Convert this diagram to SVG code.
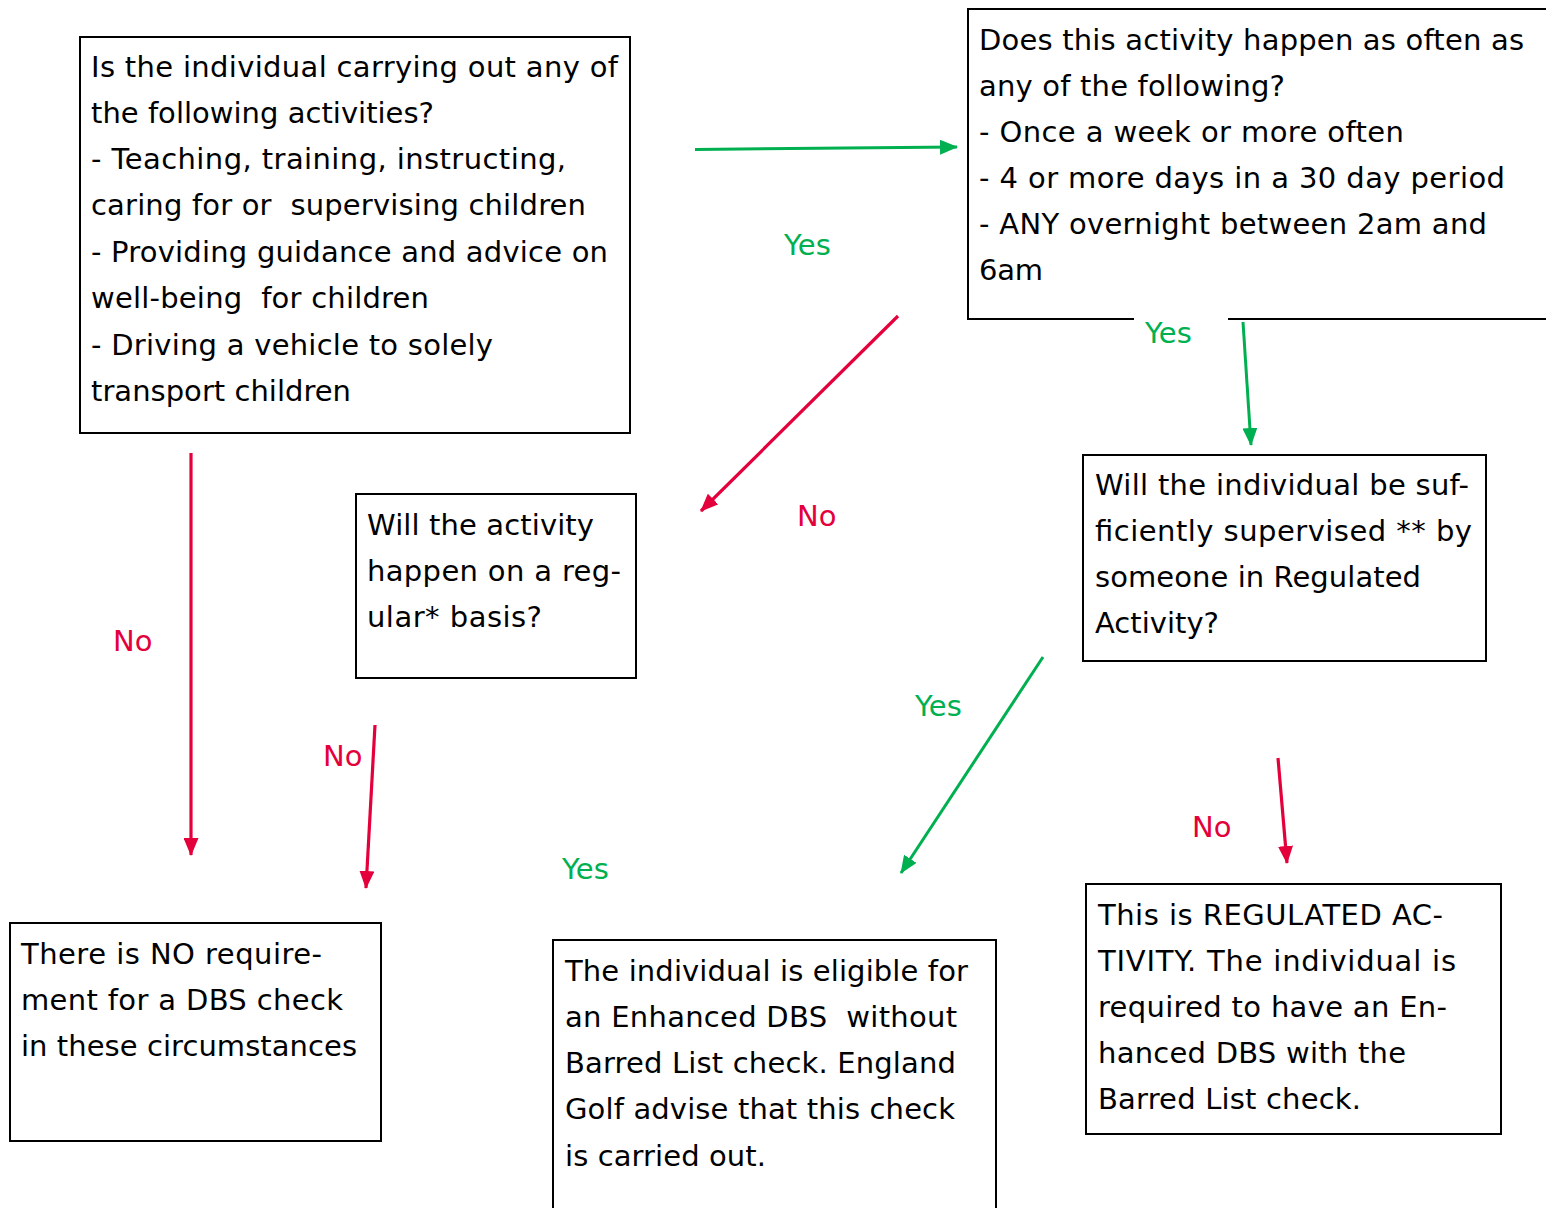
<svg xmlns="http://www.w3.org/2000/svg" width="1546" height="1208" viewBox="0 0 1546 1208">
<defs>
<style>
.box{fill:#fff;stroke:#000;stroke-width:2}
.t{font-family:"DejaVu Sans","Verdana",sans-serif;font-size:29px;fill:#000;white-space:pre}
.yes{font-family:"DejaVu Sans","Verdana",sans-serif;font-size:29px;fill:#00B050}
.no{font-family:"DejaVu Sans","Verdana",sans-serif;font-size:29px;fill:#E4003B}
.g{stroke:#00B050;stroke-width:3;fill:none}
.r{stroke:#E4003B;stroke-width:3.2;fill:none}
</style>
<marker id="ag" markerUnits="userSpaceOnUse" markerWidth="18" markerHeight="15" refX="17" refY="7.5" orient="auto"><path d="M0,0 L18,7.5 L0,15 z" fill="#00B050"/></marker>
<marker id="ar" markerUnits="userSpaceOnUse" markerWidth="18" markerHeight="15" refX="17" refY="7.5" orient="auto"><path d="M0,0 L18,7.5 L0,15 z" fill="#E4003B"/></marker>
</defs>
<rect width="1546" height="1208" fill="#fff"/>

<g id="connectors">
<line class="g" x1="695" y1="149.5" x2="957" y2="147" marker-end="url(#ag)"/>
<line class="r" x1="898" y1="316" x2="701" y2="511" marker-end="url(#ar)"/>
<line class="g" x1="1243" y1="322" x2="1251" y2="445" marker-end="url(#ag)"/>
<line class="r" x1="191" y1="453" x2="191" y2="855" marker-end="url(#ar)"/>
<line class="r" x1="375" y1="725" x2="366" y2="888" marker-end="url(#ar)"/>
<line class="g" x1="1043" y1="657" x2="901" y2="873" marker-end="url(#ag)"/>
<line class="r" x1="1278" y1="758" x2="1287" y2="863" marker-end="url(#ar)"/>
<text class="yes" x="784" y="255">Yes</text>
<text class="yes" x="1145" y="343">Yes</text>
<text class="no" x="797" y="526">No</text>
<text class="no" x="113" y="651">No</text>
<text class="no" x="323" y="766">No</text>
<text class="yes" x="915" y="716">Yes</text>
<text class="yes" x="562" y="879">Yes</text>
<text class="no" x="1192" y="837">No</text>
</g>

<g id="q1">
<rect class="box" x="80" y="37" width="550" height="396"/>
<text class="t" x="91" y="77" textLength="527">Is the individual carrying out any of</text>
<text class="t" x="91" y="123" textLength="343">the following activities?</text>
<text class="t" x="91" y="169" textLength="475">- Teaching, training, instructing,</text>
<text class="t" x="91" y="215" textLength="495" xml:space="preserve">caring for or  supervising children</text>
<text class="t" x="91" y="262" textLength="517">- Providing guidance and advice on</text>
<text class="t" x="91" y="308" textLength="338" xml:space="preserve">well-being  for children</text>
<text class="t" x="91" y="355" textLength="402">- Driving a vehicle to solely</text>
<text class="t" x="91" y="401" textLength="260">transport children</text>
</g>

<g id="q2">
<path class="box" fill="none" d="M1560,9 L968,9 L968,319 L1134,319 M1228,319 L1560,319"/>
<text class="t" x="979" y="50" textLength="545">Does this activity happen as often as</text>
<text class="t" x="979" y="96" textLength="306">any of the following?</text>
<text class="t" x="979" y="142" textLength="425">- Once a week or more often</text>
<text class="t" x="979" y="188" textLength="526">- 4 or more days in a 30 day period</text>
<text class="t" x="979" y="234" textLength="508">- ANY overnight between 2am and</text>
<text class="t" x="979" y="280" textLength="64">6am</text>
</g>

<g id="q3">
<rect class="box" x="356" y="494" width="280" height="184"/>
<text class="t" x="367" y="535" textLength="227">Will the activity</text>
<text class="t" x="367" y="581" textLength="254">happen on a reg-</text>
<text class="t" x="367" y="627" textLength="175">ular* basis?</text>
</g>

<g id="q4">
<rect class="box" x="1083" y="455" width="403" height="206"/>
<text class="t" x="1095" y="495" textLength="374">Will the individual be suf-</text>
<text class="t" x="1095" y="541" textLength="377">ficiently supervised ** by</text>
<text class="t" x="1095" y="587" textLength="326">someone in Regulated</text>
<text class="t" x="1095" y="633" textLength="124">Activity?</text>
</g>

<g id="r1">
<rect class="box" x="10" y="923" width="371" height="218"/>
<text class="t" x="21" y="964" textLength="301">There is NO require-</text>
<text class="t" x="21" y="1010" textLength="322">ment for a DBS check</text>
<text class="t" x="21" y="1056" textLength="336">in these circumstances</text>
</g>

<g id="r2">
<rect class="box" x="553" y="940" width="443" height="300"/>
<text class="t" x="565" y="981" textLength="403">The individual is eligible for</text>
<text class="t" x="565" y="1027" textLength="392" xml:space="preserve">an Enhanced DBS  without</text>
<text class="t" x="565" y="1073" textLength="391">Barred List check. England</text>
<text class="t" x="565" y="1119" textLength="390">Golf advise that this check</text>
<text class="t" x="565" y="1166" textLength="201">is carried out.</text>
</g>

<g id="r3">
<rect class="box" x="1086" y="884" width="415" height="250"/>
<text class="t" x="1098" y="925" textLength="345">This is REGULATED AC-</text>
<text class="t" x="1098" y="971" textLength="358">TIVITY. The individual is</text>
<text class="t" x="1098" y="1017" textLength="349">required to have an En-</text>
<text class="t" x="1098" y="1063" textLength="308">hanced DBS with the</text>
<text class="t" x="1098" y="1109" textLength="263">Barred List check.</text>
</g>
</svg>
